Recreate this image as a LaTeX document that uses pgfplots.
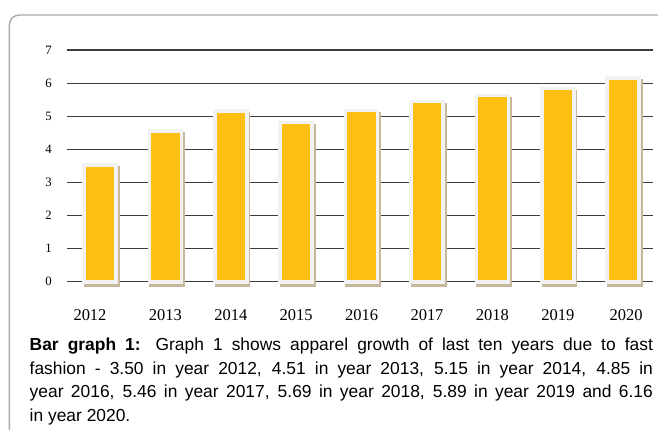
\documentclass[border=0pt]{standalone}
\usepackage{pgfplots}
\pgfplotsset{compat=1.18}
\usepackage{fontspec}
\setmainfont{Liberation Sans}
\newfontfamily\timesf{Liberation Serif}

\definecolor{baryellow}{HTML}{FCBF12}
\definecolor{barrim}{HTML}{F2F2F2}
\definecolor{barshadow}{HTML}{C7B89D}
\definecolor{gridc}{HTML}{3C3C3C}
\definecolor{framec}{HTML}{AAAAAA}

\begin{document}
\begin{tikzpicture}
% page: 658 x 430 px, 1px = 0.75bp
\path[use as bounding box] (0,0) rectangle (493.5bp,-322.5bp);
\begin{scope}
  \clip (0,0) rectangle (493.5bp,-322.5bp);
  \draw[framec, line width=1.1bp, rounded corners=7.5bp]
    (6.98bp,-340bp) |- (520bp,-11.25bp);
\end{scope}

\begin{axis}[
    at={(50.03bp,-211.28bp)}, anchor=south west,
    scale only axis, width=439.95bp, height=173.78bp,
    xmin=-0.509, xmax=8.46, ymin=0, ymax=7,
    clip=false,
    axis line style={draw=none},
    major tick length=0pt,
    ymajorgrids, grid style={gridc, line width=0.9bp},
    ytick={0,1,...,7},
    xtick={0,1,...,8},
    xticklabels={\kern-15bp 2012, 2013, 2014, 2015, 2016, 2017, 2018, 2019, \kern4.5bp 2020},
    /pgf/number format/assume math mode=true,
    yticklabel style={font=\fontsize{9.6}{10}\timesf, anchor=east,
      inner sep=0pt, xshift=-11bp},
    xticklabel style={font=\fontsize{12.4}{13}\timesf, anchor=north,
      inner sep=0pt, yshift=-20.6bp},
    ybar, bar width=24.1bp,
  ]
\addplot[fill=baryellow, draw=barrim, line width=2.7bp,
  preaction={fill=barshadow, draw=barshadow, line width=2.7bp,
    transform canvas={xshift=1.3bp, yshift=-2.5bp}}]
  coordinates {(0,3.53) (1,4.56) (2,5.16) (3,4.81) (4,5.17)
               (5,5.44) (6,5.63) (7,5.84) (8,6.16)};
\end{axis}

\node[anchor=north west, inner sep=0pt, text width=467.4bp, align=justify,
  font=\fontsize{13.1}{17.9}\selectfont]
  at (22.1bp,-252.5bp)
  {\hyphenpenalty=10000 \vrule width 0pt height 10bp depth 0pt\relax
   \textbf{Bar graph 1:} Graph 1 shows apparel growth of last ten years due to fast\linebreak
   fashion - 3.50 in year 2012, 4.51 in year 2013, 5.15 in year 2014, 4.85 in\linebreak
   year 2016, 5.46 in year 2017, 5.69 in year 2018, 5.89 in year 2019 and 6.16\linebreak
   in year 2020.};
\end{tikzpicture}
\end{document}
